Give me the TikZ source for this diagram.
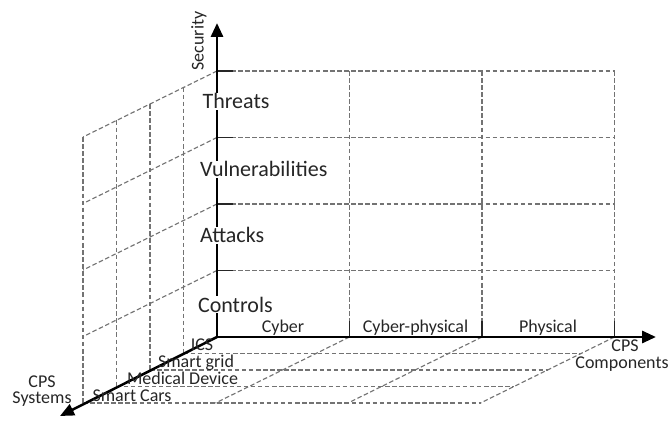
\documentclass[tikz,border=0pt]{standalone}
\usepackage{fontspec}
\setmainfont{Carlito}
\usetikzlibrary{arrows.meta}
\begin{document}
\begin{tikzpicture}[x=0.75pt,y=-0.75pt,
  grid/.style={draw=black!55, line width=0.85pt, dash pattern=on 3.4pt off 1.9pt},
  tickmark/.style={draw=black!85, line width=0.9pt},
  axis/.style={draw=black, line width=2.2pt, -{Triangle[length=10.5pt,width=9pt]}},
  biglabel/.style={font=\fontsize{16.5}{19}\selectfont, fill=white, inner sep=0.6pt, anchor=base west, text=black!85},
  smalllabel/.style={font=\fontsize{13.5}{16}\selectfont, inner sep=0pt, anchor=base, text=black!85},
]
\useasboundingbox (0,0) rectangle (671,438);

% back wall: security levels x components
\foreach \k in {1,...,4} {
  \pgfmathsetmacro\yy{337-66.5*\k}
  \draw[grid] (217,\yy) -- (614.5,\yy);
  % left wall: security levels x systems
  \draw[grid] (217,\yy) -- (83,\yy+66);
}
\foreach \x in {349.5,482,614.5} {
  \draw[grid] (\x,71) -- (\x,337);
  % floor: components x systems
  \draw[grid] (\x,337) -- (\x-134,403);
}
\foreach \j in {1,...,4} {
  \draw[grid] (217-33.5*\j,71+16.5*\j) -- (217-33.5*\j,337+16.5*\j);
  \draw[grid] (217-33.5*\j,337+16.5*\j) -- (614.5-33.5*\j,337+16.5*\j);
}

% short solid ticks on the axes
\foreach \k in {1,...,4} {
  \pgfmathsetmacro\yy{337-66.5*\k}
  \draw[tickmark] (217,\yy) -- (233,\yy);
}
\foreach \x in {349.5,482,614.5}
  \draw[tickmark] (\x,321) -- (\x,337);

% axes
\coordinate (O) at (217,337);
\coordinate (secEnd) at (217,23);
\coordinate (compEnd) at (656,337);
\coordinate (sysEnd) at (60,416);
\draw[axis] (O) -- (secEnd);
\draw[axis] (O) -- (compEnd);
\draw[axis, line width=1.9pt] (O) -- (sysEnd);

% security levels
\node[biglabel] (thr) at (201.5,109) {Threats};
\node[biglabel] (vul) at (199,177) {Vulnerabilities};
\node[biglabel] (att) at (199,243) {Attacks};
\node[biglabel] (ctl) at (197,312) {Controls};
\node[smalllabel, rotate=90, anchor=center] (sec) at (199,41) {Security};

% components
\node[smalllabel] (cyb) at (283,333) {Cyber};
\node[smalllabel] (cyp) at (415.5,333) {Cyber-physical};
\node[smalllabel] (phy) at (548,333) {Physical};
\node[smalllabel] (cmp1) at (625,351) {CPS};
\node[smalllabel] (cmp2) at (622,368) {Components};

% systems
\node[smalllabel] (ics) at (202,350) {ICS};
\node[smalllabel] (sgr) at (196,367) {Smart grid};
\node[smalllabel] (med) at (182.5,384) {Medical Device};
\node[smalllabel] (car) at (132,401) {Smart Cars};
\node[smalllabel] (sys1) at (42,387) {CPS};
\node[smalllabel] (sys2) at (42,403) {Systems};
\end{tikzpicture}
\end{document}
